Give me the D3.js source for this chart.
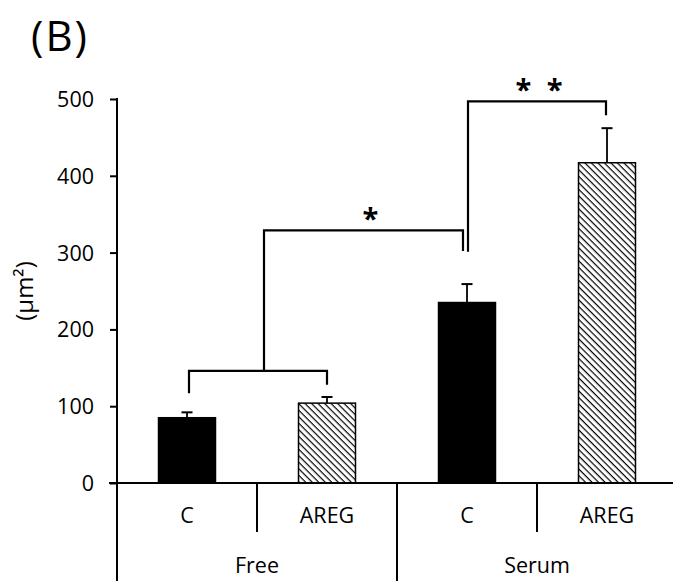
<!DOCTYPE html>
<html>
<head>
<meta charset="utf-8">
<script src="https://cdn.jsdelivr.net/npm/d3@7"></script>
<style>
  html, body { margin: 0; padding: 0; background: #fff; }
  text { font-family: "Open Sans", sans-serif; fill: #000; }
</style>
</head>
<body>
<svg id="chart" width="673" height="581"></svg>
<script>
// ---- data ----
const groups = ["Free", "Serum"];
const treatments = ["C", "AREG"];
const values = [85, 104, 235, 417];
const errors = [7, 8, 24, 45];
const yTicks = [0, 100, 200, 300, 400, 500];
const yLabel = "(μm²)";
const title = "(B)";

// significance annotations (value units)
const brackets = [
  { a: 0, b: 1, y: 146, ya: 117, yb: 128, label: "" },
  { a: "m01", b: 2, y: 329, ya: 146, yb: 302, label: "*" },
  { a: 2, b: 3, y: 497, ya: 301, yb: 479, label: "* *" }
];

// ---- layout ----
(function () {
const svg = d3.select("#chart");
const pLeft = 117, pRight = 677, pTop = 99, pBottom = 483;
const keys = values.map((d, i) => i);
const x = d3.scaleBand().domain(keys).range([pLeft, pRight]).paddingInner(0.593).paddingOuter(0.593 / 2);
const y = d3.scaleLinear().domain([0, 500]).range([pBottom, pTop]);
const cx = i => x(i) + x.bandwidth() / 2;

// hatch pattern
const defs = svg.append("defs");
const pat = defs.append("pattern").attr("id", "hatch").attr("patternUnits", "userSpaceOnUse")
  .attr("width", 4.6).attr("height", 4.6).attr("patternTransform", "rotate(45)");
pat.append("rect").attr("width", 4.6).attr("height", 4.6).attr("fill", "#fff");
pat.append("line").attr("x1", 0).attr("y1", 0).attr("x2", 4.6).attr("y2", 0)
  .attr("stroke", "#000").attr("stroke-width", 2.4);

// title
svg.append("text").attr("x", 31).attr("y", 51).attr("font-size", 42).style("letter-spacing", "2px").text(title);

// y axis
const yAxis = d3.axisLeft(y).tickValues(yTicks).tickSize(7).tickPadding(16);
const gy = svg.append("g").attr("transform", `translate(${pLeft},0)`).call(yAxis);
gy.select(".domain").remove();
gy.selectAll(".tick line").attr("stroke", "#000").attr("stroke-width", 2);
gy.selectAll(".tick text").attr("font-size", 21.5).attr("font-family", "Open Sans").attr("dy", "0.35em");
gy.append("line").attr("x1", 0).attr("x2", 0).attr("y1", y(500) - 1).attr("y2", 581).attr("stroke", "#000").attr("stroke-width", 2);

// y label
svg.append("text").attr("transform", `translate(33,${(pTop + pBottom) / 2}) rotate(-90)`)
  .attr("text-anchor", "middle").attr("font-size", 24).text(yLabel);

// bars
svg.selectAll("rect.bar").data(values).enter().append("rect").attr("class", "bar")
  .attr("x", (d, i) => x(i)).attr("width", x.bandwidth())
  .attr("y", d => y(d)).attr("height", d => pBottom - y(d))
  .attr("fill", (d, i) => i % 2 === 0 ? "#000" : "url(#hatch)")
  .attr("stroke", "#000").attr("stroke-width", 1.5);

// error bars
const eb = svg.selectAll("g.err").data(values).enter().append("g");
eb.append("line").attr("x1", (d, i) => cx(i)).attr("x2", (d, i) => cx(i))
  .attr("y1", d => y(d)).attr("y2", (d, i) => y(d + errors[i])).attr("stroke", "#000").attr("stroke-width", 1.8);
eb.append("line").attr("x1", (d, i) => cx(i) - 5.5).attr("x2", (d, i) => cx(i) + 5.5)
  .attr("y1", (d, i) => y(d + errors[i])).attr("y2", (d, i) => y(d + errors[i])).attr("stroke", "#000").attr("stroke-width", 2);

// x axis
svg.append("line").attr("x1", pLeft - 8).attr("x2", 673).attr("y1", pBottom).attr("y2", pBottom).attr("stroke", "#000").attr("stroke-width", 2);
// separators
const step = x.step();
[1, 3].forEach(k => {
  const xx = pLeft + k * step;
  svg.append("line").attr("x1", xx).attr("x2", xx).attr("y1", pBottom).attr("y2", 532).attr("stroke", "#000").attr("stroke-width", 2);
});
[2].forEach(k => {
  const xx = pLeft + k * step;
  svg.append("line").attr("x1", xx).attr("x2", xx).attr("y1", pBottom).attr("y2", 581).attr("stroke", "#000").attr("stroke-width", 2);
});
// labels
keys.forEach(i => {
  svg.append("text").attr("x", cx(i)).attr("y", 523).attr("text-anchor", "middle").attr("font-size", 21.5).text(treatments[i % 2]);
});
groups.forEach((g, j) => {
  svg.append("text").attr("x", pLeft + (j * 2 + 1) * step).attr("y", 573).attr("text-anchor", "middle").attr("font-size", 21.5).text(g);
});

// brackets
const bx = v => v === "m01" ? (cx(0) + cx(1)) / 2 + 7 : cx(v);
const offs = [[2, 0], [0, -4], [1, -1]];
const labelShift = [0, 7, 4];
brackets.forEach((b, k) => {
  const xa = bx(b.a) + offs[k][0], xb = bx(b.b) + offs[k][1];
  const path = d3.path();
  path.moveTo(xa, y(b.ya)); path.lineTo(xa, y(b.y)); path.lineTo(xb, y(b.y)); path.lineTo(xb, y(b.yb));
  svg.append("path").attr("d", path.toString()).attr("fill", "none").attr("stroke", "#000").attr("stroke-width", 2.2);
  if (b.label) {
    svg.append("text").attr("x", (xa + xb) / 2 + labelShift[k]).attr("y", y(b.y) - 1)
      .attr("text-anchor", "middle").attr("font-size", 29).attr("font-weight", "bold")
      .style("letter-spacing", k === 2 ? "4px" : "0").text(b.label);
  }
});
})();
</script>
</body>
</html>
